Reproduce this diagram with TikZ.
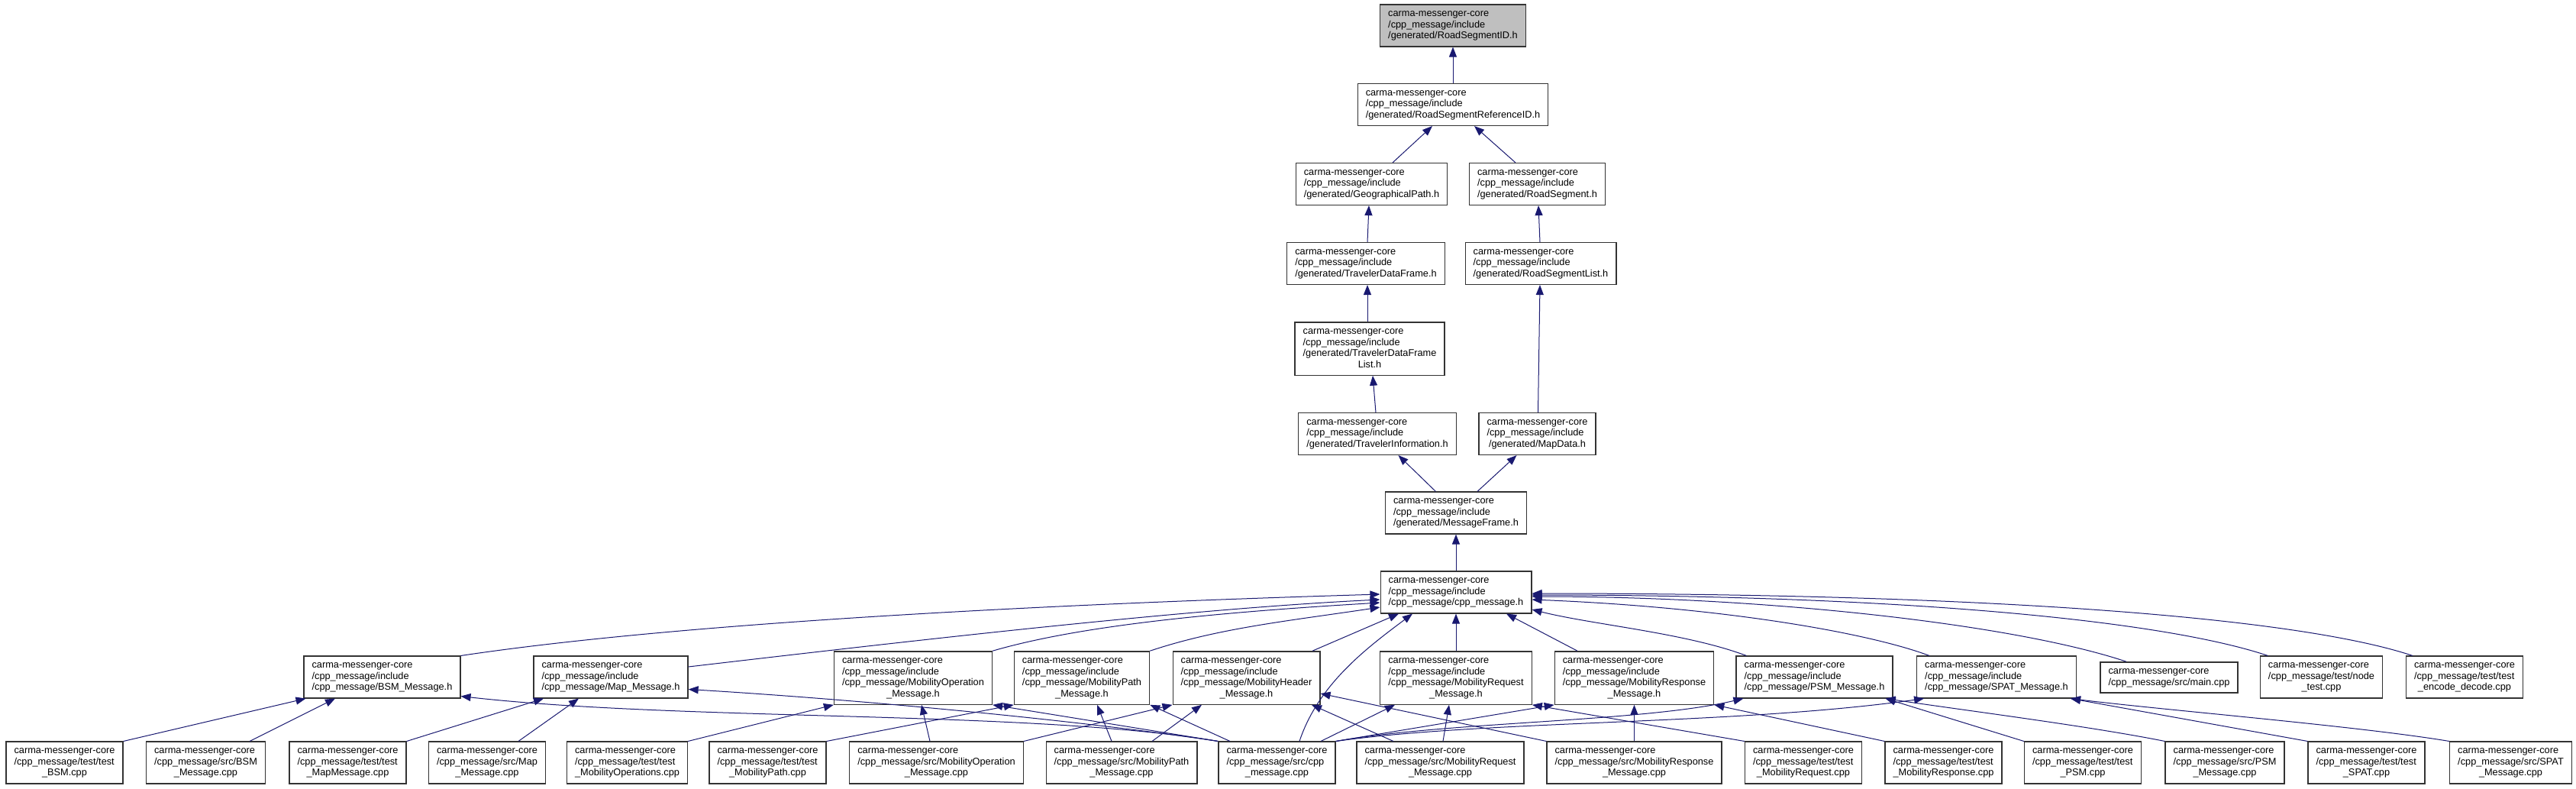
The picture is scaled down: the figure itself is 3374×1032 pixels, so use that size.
\documentclass[tikz,border=0pt]{standalone}
\usepackage{fontspec}
\setmainfont{Liberation Sans}
\usetikzlibrary{arrows.meta, calc}
\definecolor{edgenavy}{RGB}{25,25,112}
\newcommand{\filelbl}[2]{\begin{tabular}{@{}l@{}}#1\\\multicolumn{1}{@{}c@{}}{#2}\end{tabular}}
\tikzset{
  filebox/.style={
    draw=black!80, fill=white, line width=0.013cm,
    inner xsep=0.105cm, inner ysep=0.056cm,
    font=\fontsize{3.63pt}{4.13pt}\selectfont
  },
  rootbox/.style={filebox, fill=black!25},
  incl/.style={
    -{Triangle[length=0.13cm, width=0.1cm]}, draw=edgenavy, line width=0.01cm
  },
}
\begin{document}
\begin{tikzpicture}[x=0.01cm, y=-0.01cm]
  \useasboundingbox (0,0) rectangle (3374,1032);

  % Generated headers
  \node[rootbox] (rsid) at (1903,33.5)
    {\filelbl{carma-messenger-core\\/cpp\_message/include}{/generated/RoadSegmentID.h}};
  \node[filebox] (rsrefid) at (1903,137)
    {\filelbl{carma-messenger-core\\/cpp\_message/include}{/generated/RoadSegmentReferenceID.h}};
  \node[filebox] (geopath) at (1796.5,241)
    {\filelbl{carma-messenger-core\\/cpp\_message/include}{/generated/GeographicalPath.h}};
  \node[filebox] (roadseg) at (2013.5,241)
    {\filelbl{carma-messenger-core\\/cpp\_message/include}{/generated/RoadSegment.h}};
  \node[filebox] (tdf) at (1789,345)
    {\filelbl{carma-messenger-core\\/cpp\_message/include}{/generated/TravelerDataFrame.h}};
  \node[filebox] (rslist) at (2018,345)
    {\filelbl{carma-messenger-core\\/cpp\_message/include}{/generated/RoadSegmentList.h}};
  \node[filebox] (tdflist) at (1794,456.5)
    {\filelbl{carma-messenger-core\\/cpp\_message/include\\/generated/TravelerDataFrame}{List.h}};
  \node[filebox] (tinfo) at (1804,568)
    {\filelbl{carma-messenger-core\\/cpp\_message/include}{/generated/TravelerInformation.h}};
  \node[filebox] (mapdata) at (2013.5,568)
    {\filelbl{carma-messenger-core\\/cpp\_message/include}{/generated/MapData.h}};
  \node[filebox] (msgframe) at (1907,671.5)
    {\filelbl{carma-messenger-core\\/cpp\_message/include}{/generated/MessageFrame.h}};
  \node[filebox] (cpph) at (1907,775.5)
    {\filelbl{carma-messenger-core\\/cpp\_message/include}{/cpp\_message/cpp\_message.h}};

  % Message headers and sources that include cpp_message.h
  \node[filebox] (bsmh) at (500.5,886.5)
    {\filelbl{carma-messenger-core\\/cpp\_message/include}{/cpp\_message/BSM\_Message.h}};
  \node[filebox] (maph) at (800,886.5)
    {\filelbl{carma-messenger-core\\/cpp\_message/include}{/cpp\_message/Map\_Message.h}};
  \node[filebox] (mobopH) at (1196,887.5)
    {\filelbl{carma-messenger-core\\/cpp\_message/include\\/cpp\_message/MobilityOperation}{\_Message.h}};
  \node[filebox] (mobpathH) at (1417,887.5)
    {\filelbl{carma-messenger-core\\/cpp\_message/include\\/cpp\_message/MobilityPath}{\_Message.h}};
  \node[filebox] (mobheadH) at (1632.5,887.5)
    {\filelbl{carma-messenger-core\\/cpp\_message/include\\/cpp\_message/MobilityHeader}{\_Message.h}};
  \node[filebox] (mobreqH) at (1907,887.5)
    {\filelbl{carma-messenger-core\\/cpp\_message/include\\/cpp\_message/MobilityRequest}{\_Message.h}};
  \node[filebox] (mobrespH) at (2140.5,887.5)
    {\filelbl{carma-messenger-core\\/cpp\_message/include\\/cpp\_message/MobilityResponse}{\_Message.h}};
  \node[filebox] (psmH) at (2376.5,886.5)
    {\filelbl{carma-messenger-core\\/cpp\_message/include}{/cpp\_message/PSM\_Message.h}};
  \node[filebox] (spatH) at (2615,886.5)
    {\filelbl{carma-messenger-core\\/cpp\_message/include}{/cpp\_message/SPAT\_Message.h}};
  \node[filebox] (maincpp) at (2841,887)
    {\filelbl{carma-messenger-core}{/cpp\_message/src/main.cpp}};
  \node[filebox] (nodetest) at (3040.5,886.5)
    {\filelbl{carma-messenger-core\\/cpp\_message/test/node}{\_test.cpp}};
  \node[filebox] (encdec) at (3228,886.5)
    {\filelbl{carma-messenger-core\\/cpp\_message/test/test}{\_encode\_decode.cpp}};

  % Sources and tests
  \node[filebox] (testbsm) at (84.5,998.5)
    {\filelbl{carma-messenger-core\\/cpp\_message/test/test}{\_BSM.cpp}};
  \node[filebox] (srcbsm) at (269.5,998.5)
    {\filelbl{carma-messenger-core\\/cpp\_message/src/BSM}{\_Message.cpp}};
  \node[filebox] (testmap) at (455.5,998.5)
    {\filelbl{carma-messenger-core\\/cpp\_message/test/test}{\_MapMessage.cpp}};
  \node[filebox] (srcmap) at (638,998.5)
    {\filelbl{carma-messenger-core\\/cpp\_message/src/Map}{\_Message.cpp}};
  \node[filebox] (testmobops) at (821.5,998.5)
    {\filelbl{carma-messenger-core\\/cpp\_message/test/test}{\_MobilityOperations.cpp}};
  \node[filebox] (testmobpath) at (1005.5,998.5)
    {\filelbl{carma-messenger-core\\/cpp\_message/test/test}{\_MobilityPath.cpp}};
  \node[filebox] (srcmobop) at (1226.5,998.5)
    {\filelbl{carma-messenger-core\\/cpp\_message/src/MobilityOperation}{\_Message.cpp}};
  \node[filebox] (srcmobpath) at (1469,998.5)
    {\filelbl{carma-messenger-core\\/cpp\_message/src/MobilityPath}{\_Message.cpp}};
  \node[filebox] (cppcpp) at (1672.5,998.5)
    {\filelbl{carma-messenger-core\\/cpp\_message/src/cpp}{\_message.cpp}};
  \node[filebox] (srcmobreq) at (1886.5,998.5)
    {\filelbl{carma-messenger-core\\/cpp\_message/src/MobilityRequest}{\_Message.cpp}};
  \node[filebox] (srcmobresp) at (2140.5,998.5)
    {\filelbl{carma-messenger-core\\/cpp\_message/src/MobilityResponse}{\_Message.cpp}};
  \node[filebox] (testmobreq) at (2362,998.5)
    {\filelbl{carma-messenger-core\\/cpp\_message/test/test}{\_MobilityRequest.cpp}};
  \node[filebox] (testmobresp) at (2545.5,998.5)
    {\filelbl{carma-messenger-core\\/cpp\_message/test/test}{\_MobilityResponse.cpp}};
  \node[filebox] (testpsm) at (2728,998.5)
    {\filelbl{carma-messenger-core\\/cpp\_message/test/test}{\_PSM.cpp}};
  \node[filebox] (srcpsm) at (2914,998.5)
    {\filelbl{carma-messenger-core\\/cpp\_message/src/PSM}{\_Message.cpp}};
  \node[filebox] (testspat) at (3099.5,998.5)
    {\filelbl{carma-messenger-core\\/cpp\_message/test/test}{\_SPAT.cpp}};
  \node[filebox] (srcspat) at (3288.5,998.5)
    {\filelbl{carma-messenger-core\\/cpp\_message/src/SPAT}{\_Message.cpp}};

  % Include edges, generated part
  \draw[incl] (rsrefid.north) -- (rsid.south);
  \draw[incl] ($(geopath.north)+(27.5,0)$) -- ($(rsrefid.south)+(-27,0)$);
  \draw[incl] ($(roadseg.north)+(-28.5,0)$) -- ($(rsrefid.south)+(28,0)$);
  \draw[incl] ($(tdf.north)+(2,0)$) -- ($(geopath.south)+(-3.5,0)$);
  \draw[incl] ($(rslist.north)+(-1,0)$) -- ($(roadseg.south)+(1.5,0)$);
  \draw[incl] ($(tdflist.north)+(-3,0)$) -- ($(tdf.south)+(2,0)$);
  \draw[incl] ($(tinfo.north)+(-2,0)$) -- ($(tdflist.south)+(4,0)$);
  \draw[incl] ($(mapdata.north)+(1,0)$) -- ($(rslist.south)+(-1,0)$);
  \draw[incl] ($(msgframe.north)+(-26.5,0)$) -- ($(tinfo.south)+(27.5,0)$);
  \draw[incl] ($(msgframe.north)+(28,0)$) -- ($(mapdata.south)+(-27,0)$);
  \draw[incl] (cpph.north) -- (msgframe.south);

  % Include edges into cpp_message.h
  \draw[incl] (bsmh.north east) .. controls +(300,-45) and +(-400,12) .. ($(cpph.west)+(0,2.5)$);
  \draw[incl] ($(maph.east)+(0,-13.5)$) .. controls +(300,-35) and +(-250,12) .. ($(cpph.west)+(0,9.5)$);
  \draw[incl] (mobopH.north east) .. controls +(120,-35) and +(-200,12) .. ($(cpph.west)+(0,13.5)$);
  \draw[incl] (mobpathH.north east) .. controls +(90,-30) and +(-120,18) .. ($(cpph.west)+(0,19.5)$);
  \draw[incl] ($(mobheadH.north)+(86.5,0)$) -- ($(cpph.south)+(-75,0)$);
  \draw[incl] ($(cppcpp.north)+(29.5,0)$) .. controls +(25,-75) and +(-60,45) .. ($(cpph.south)+(-57,0)$);
  \draw[incl] (mobreqH.north) -- (cpph.south);
  \draw[incl] ($(mobrespH.north)+(-74.5,0)$) -- ($(cpph.south)+(66,0)$);
  \draw[incl] ($(psmH.north west)+(14,0)$) .. controls +(-80,-30) and +(80,20) .. ($(cpph.east)+(0,22.5)$);
  \draw[incl] ($(spatH.north west)+(17,0)$) .. controls +(-80,-30) and +(250,10) .. ($(cpph.east)+(0,9.5)$);
  \draw[incl] ($(maincpp.north)+(-56,0)$) .. controls +(-150,-50) and +(300,0) .. ($(cpph.east)+(0,5.5)$);
  \draw[incl] ($(nodetest.north)+(-70,0)$) .. controls +(-150,-50) and +(450,0) .. ($(cpph.east)+(0,3.5)$);
  \draw[incl] ($(encdec.north)+(-68,0)$) .. controls +(-150,-50) and +(600,0) .. ($(cpph.east)+(0,1.5)$);

  % Include edges into the message headers
  \draw[incl] (testbsm.north east) -- ($(bsmh.south)+(-100,0)$);
  \draw[incl] ($(srcbsm.north)+(57.5,0)$) -- ($(bsmh.south)+(-61.5,0)$);
  \draw[incl] (cppcpp.north west) .. controls +(-244,-41) and +(295,33) .. ($(bsmh.south east)+(0,-3)$);
  \draw[incl] (testmap.north east) -- ($(maph.south)+(-88,0)$);
  \draw[incl] ($(srcmap.north)+(41,0)$) -- ($(maph.south)+(-42,0)$);
  \draw[incl] (cppcpp.north west) .. controls +(-200,-30) and +(200,12) .. ($(maph.east)+(0,16)$);
  \draw[incl] (testmobops.north east) -- (mobopH.south west);
  \draw[incl] ($(srcmobop.north)+(-8.5,0)$) -- ($(mobopH.south)+(11,0)$);
  \draw[incl] (cppcpp.north west) -- (mobopH.south east);
  \draw[incl] (testmobpath.north east) -- (mobpathH.south west);
  \draw[incl] ($(srcmobpath.north)+(-13,0)$) -- ($(mobpathH.south)+(20,0)$);
  \draw[incl] ($(cppcpp.north)+(-61.5,0)$) -- (mobpathH.south east);
  \draw[incl] (srcmobop.north east) -- (mobheadH.south west);
  \draw[incl] ($(srcmobpath.north)+(40,0)$) -- ($(mobheadH.south)+(-58.5,0)$);
  \draw[incl] ($(srcmobreq.north)+(-61.5,0)$) -- ($(mobheadH.south)+(85.5,0)$);
  \draw[incl] (srcmobresp.north west) -- ($(mobheadH.east)+(0,20.5)$);
  \draw[incl] ($(cppcpp.north)+(57.5,0)$) -- ($(mobreqH.south)+(-80,0)$);
  \draw[incl] ($(srcmobreq.north)+(3.5,0)$) -- ($(mobreqH.south)+(-9,0)$);
  \draw[incl] (testmobreq.north west) -- (mobreqH.south east);
  \draw[incl] (cppcpp.north east) -- (mobrespH.south west);
  \draw[incl] (srcmobresp.north) -- (mobrespH.south);
  \draw[incl] (testmobresp.north west) -- (mobrespH.south east);
  \draw[incl] (cppcpp.north east) .. controls +(149,-26) and +(-133,31) .. ($(psmH.south west)+(10,0)$);
  \draw[incl] (cppcpp.north east) .. controls +(200,-28) and +(-250,35) .. ($(spatH.south west)+(10,0)$);
  \draw[incl] (testpsm.north west) -- ($(psmH.south east)+(-10,0)$);
  \draw[incl] (srcpsm.north west) .. controls +(-100,-20) and +(100,15) .. ($(psmH.south east)+(-10,0)$);
  \draw[incl] (testspat.north west) -- ($(spatH.south east)+(-8,0)$);
  \draw[incl] (srcspat.north west) .. controls +(-120,-20) and +(120,15) .. ($(spatH.south east)+(-8,0)$);
\end{tikzpicture}
\end{document}
